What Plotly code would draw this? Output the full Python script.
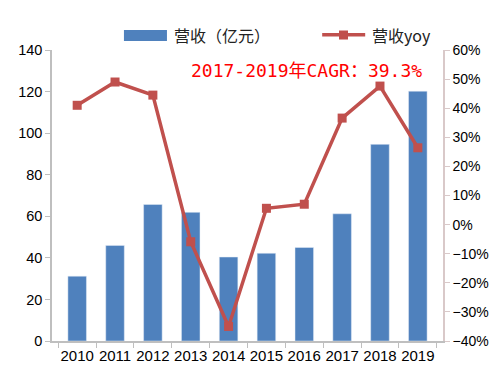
import plotly.graph_objects as go

years = ["2010", "2011", "2012", "2013", "2014", "2015", "2016", "2017", "2018", "2019"]
revenue = [31.2, 46.0, 65.7, 61.9, 40.4, 42.2, 45.0, 61.2, 94.6, 120.2]
yoy = [41.0, 49.0, 44.5, -5.9, -35.0, 5.6, 7.0, 36.6, 47.6, 26.4]
left_ticks = [0, 20, 40, 60, 80, 100, 120, 140]
right_ticks = [-40, -30, -20, -10, 0, 10, 20, 30, 40, 50, 60]
right_labels = [f"{v}%".replace("-", "\u2212") for v in right_ticks]

BAR = "#4F81BD"
LINE = "#C0504D"
FONT = "Liberation Sans, Arial, sans-serif"

fig = go.Figure()
fig.add_trace(go.Bar(x=years, y=revenue, name="营收（亿元）", marker_color=BAR,
                     width=0.49, yaxis="y", showlegend=False))
fig.add_trace(go.Scatter(x=years, y=yoy, name="营收yoy", mode="lines+markers",
                         line=dict(color=LINE, width=3.5),
                         marker=dict(symbol="square", size=9, color=LINE),
                         yaxis="y2", showlegend=False))

# manual legend (paper coordinates)
shapes = [
    dict(type="rect", xref="paper", yref="paper", x0=0.184, x1=0.294, y0=1.031, y1=1.069,
         fillcolor=BAR, line=dict(width=0)),
    dict(type="line", xref="paper", yref="paper", x0=0.691, x1=0.801, y0=1.052, y1=1.052,
         line=dict(color=LINE, width=3.5)),
    dict(type="rect", xref="paper", yref="paper", x0=0.734, x1=0.757, y0=1.036, y1=1.067,
         fillcolor=LINE, line=dict(width=0)),
]

fig.update_layout(
    width=497, height=375,
    margin=dict(l=52, r=54, t=50, b=34, autoexpand=False),
    plot_bgcolor="white", paper_bgcolor="white",
    font=dict(family=FONT, size=14, color="#000000"),
    showlegend=False,
    shapes=shapes,
    xaxis=dict(type="category", showline=True, linecolor="#BFBFBF", linewidth=1.5,
               ticks="outside", tickson="boundaries", ticklen=5, tickcolor="#BFBFBF",
               showgrid=False, tickangle=0, tickfont=dict(size=15)),
    yaxis=dict(range=[0, 140], tickvals=left_ticks, showline=True, linecolor="#BFBFBF",
               linewidth=1.5, ticks="outside", ticklen=5, tickcolor="#BFBFBF",
               showgrid=False, zeroline=False, tickfont=dict(size=14.5)),
    yaxis2=dict(range=[-40, 60], tickvals=right_ticks, ticktext=right_labels, overlaying="y",
                side="right", showline=True, linecolor="#D9C9C9", linewidth=1.5,
                ticks="outside", ticklen=5, tickcolor="#D9C9C9", showgrid=False,
                zeroline=False, tickfont=dict(size=14)),
    annotations=[
        dict(text="2017-2019年CAGR：39.3%", xref="paper", yref="paper",
             x=0.652, y=0.931, xanchor="center", yanchor="middle", showarrow=False,
             font=dict(family="DejaVu Sans Mono, Noto Sans CJK SC", size=18, color="#FF0000")),
        dict(text="营收（亿元）", xref="paper", yref="paper", x=0.307, y=1.052,
             xanchor="left", yanchor="middle", showarrow=False,
             font=dict(family="Noto Sans CJK SC", size=16, color="#222222")),
        dict(text="营收yoy", xref="paper", yref="paper", x=0.813, y=1.052,
             xanchor="left", yanchor="middle", showarrow=False,
             font=dict(family="Noto Sans CJK SC", size=16, color="#222222")),
    ],
)

fig.write_html("out.html", config={"displayModeBar": False},
               post_script="document.body.style.margin='0';")
